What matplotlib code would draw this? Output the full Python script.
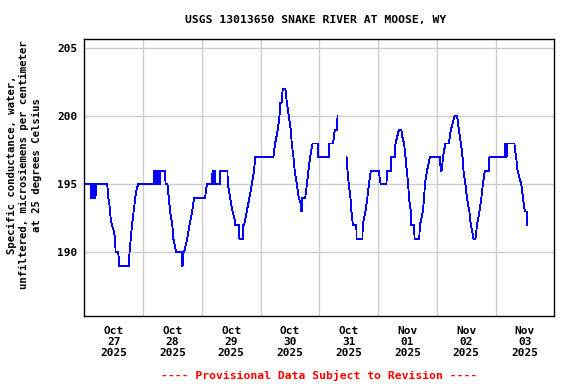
import numpy as np
import pandas as pd
import matplotlib
matplotlib.use('Agg')
import matplotlib.pyplot as plt

# hours since 2025-10-27 00:00 (local) and specific conductance, uS/cm
hours = [0, 2.6, 2.8, 3.0, 3.2, 3.5, 3.6, 4.0, 4.1, 4.3, 4.5, 4.7, 9.3, 9.7, 10.2, 10.7,
         11.2, 12.1, 12.5, 12.7, 13.8, 14.0, 14.2, 18.1, 18.4, 19.4, 20.4, 21.1, 21.9,
         28.4, 28.5, 29.1, 29.2, 29.6, 29.7, 29.9, 30.1, 30.3, 30.5, 30.8, 31.0, 31.3,
         33.0, 33.1, 33.9, 35.0, 35.9, 36.3, 37.5, 39.7, 39.8, 40.0, 40.1, 40.3, 40.7,
         42.0, 42.9, 44.0, 44.8,
         49.3, 49.6, 50.0, 52.2, 52.3, 52.7, 52.8, 52.9, 53.2, 53.3, 55.3, 55.4, 58.4,
         58.6, 59.5, 60.5, 61.3, 61.5, 63.2, 63.3, 64.6, 64.7, 64.8, 64.9, 65.2, 66.3,
         67.4, 68.4, 69.3, 69.8,
         77.2, 77.9, 79.0, 79.7, 80.0, 80.6, 81.0, 82.1, 82.7, 83.5, 84.3, 84.7, 85.4,
         85.9, 86.8, 87.6, 88.5, 88.6, 88.8, 88.9, 89.1, 90.2, 90.9, 91.5, 92.2, 93.2,
         95.5, 95.6, 100.0, 100.1, 101.6, 102.3, 103.2, 103.4,
         105.0,
         107.1, 107.5, 108.0, 108.7, 109.1, 109.7, 111.1, 111.2, 113.6, 113.7, 114.8,
         115.6, 116.6, 117.0, 120.4, 120.6, 121.1, 123.4, 123.5, 123.8, 125.3, 125.4,
         126.8, 127.1, 127.8, 128.5, 129.5, 129.9, 130.6, 131.2, 131.7, 132.3, 132.6,
         133.4, 133.6, 134.7, 134.9, 136.8, 137.1, 138.3, 138.8, 139.1, 140.0, 141.2,
         145.4, 145.5, 145.7, 145.9, 146.0, 146.5, 147.0, 147.5, 148.9, 149.7, 150.5,
         151.2, 152.3, 153.0, 153.8, 154.2, 154.5, 154.9, 155.7, 156.3, 157.3, 157.9,
         158.5, 159.0, 159.8, 160.1, 160.4, 161.4, 162.2, 162.8, 163.6, 165.3, 165.5,
         171.7, 171.8, 172.4, 172.5, 172.7, 175.7, 176.0, 176.4, 177.0, 178.5, 179.2,
         180.0, 180.7, 180.8]
cond = [195, 195, 194, 195, 194, 194, 195, 195, 194, 195, 194, 195, 195, 194, 193.5, 192.5,
        192, 191.5, 191, 190, 190, 189.5, 189, 189, 190, 192, 193.5, 194.5, 195,
        195, 196, 196, 195, 195, 196, 195, 196, 195, 196, 195, 196, 196,
        196, 195, 195, 193, 192, 191, 190, 190, 189, 190, 189, 190, 190,
        191, 192, 193, 194,
        194, 194.5, 195, 195, 196, 196, 195, 196, 196, 195, 195, 196, 196,
        195, 194, 193, 192.5, 192, 192, 191, 191, 192, 191, 192, 192, 193,
        194, 195, 196, 197,
        197, 198, 199, 200, 201, 201, 202, 202, 201, 200, 199, 198, 197,
        196, 195, 194, 193.5, 193, 194, 193, 194, 194, 195, 196, 197, 198,
        198, 197, 197, 198, 198, 199, 199, 200,
        np.nan,
        197, 196, 195, 194, 193, 192, 192, 191, 191, 192, 193,
        194, 195.5, 196, 196, 195.5, 195, 195, 195.5, 196, 196, 197,
        197, 198, 198.5, 199, 199, 198.5, 198, 197, 196, 195, 194,
        193, 192, 192, 191, 191, 192, 193, 194, 195, 196, 197,
        197, 196, 196.5, 196.5, 196, 197, 197.5, 198, 198, 199, 199.5,
        200, 200, 199, 198, 197.5, 197, 196, 195, 194, 193, 192,
        191.5, 191, 191, 191.5, 192, 193, 194, 195, 196, 196, 197,
        197, 198, 198, 197, 198, 198, 197.5, 197, 196, 195, 194,
        193, 193, 192]

y_ticks = [190, 195, 200, 205]
start = pd.Timestamp('2025-10-27')
times = start + pd.to_timedelta(hours, unit='h')
days = pd.date_range(start, periods=9, freq='D')

font = ['DejaVu Sans Mono']
fig = plt.figure(figsize=(5.76, 3.84), dpi=100)
ax = fig.add_axes([0.1467, 0.1771, 0.8156, 0.7206])

ax.plot(times, cond, color='#0000ff', lw=0.6, antialiased=False)

ax.set_xlim(days[0], days[-1])
ax.set_ylim(185.32, 205.66)
ax.set_yticks(y_ticks)
ax.set_yticklabels([str(v) for v in y_ticks], family=font, weight='bold', fontsize=8)

ax.set_xticks(days[1:-1])
ax.set_xticklabels([])
ax.set_xticks(days[:-1] + pd.Timedelta(hours=12), minor=True)
ax.set_xticklabels([d.strftime('%b\n%d\n%Y') for d in days[:-1]], minor=True,
                   family=font, weight='bold', fontsize=8, linespacing=1.15)
ax.tick_params(axis='both', which='both', length=0)
ax.tick_params(axis='x', which='minor', pad=7)
ax.tick_params(axis='y', pad=5)

ax.grid(True, which='major', color='#cccccc', lw=1.0)
ax.set_axisbelow(True)
for s in ax.spines.values():
    s.set_linewidth(1.0)
    s.set_color('black')

fig.text(0.548, 0.948, 'USGS 13013650 SNAKE RIVER AT MOOSE, WY', ha='center', va='center',
         family=font, weight='bold', fontsize=8.2)
fig.text(0.0425, 0.570,
         'Specific conductance, water,\nunfiltered, microsiemens per centimeter\nat 25 degrees Celsius',
         ha='center', va='center', rotation=90, family=font, weight='bold', fontsize=7.7,
         linespacing=1.3)
fig.text(0.5545, 0.0234, '---- Provisional Data Subject to Revision ----', ha='center',
         va='center', color='red', family=font, weight='bold', fontsize=8.2)

fig.savefig('out.png', dpi=100)
